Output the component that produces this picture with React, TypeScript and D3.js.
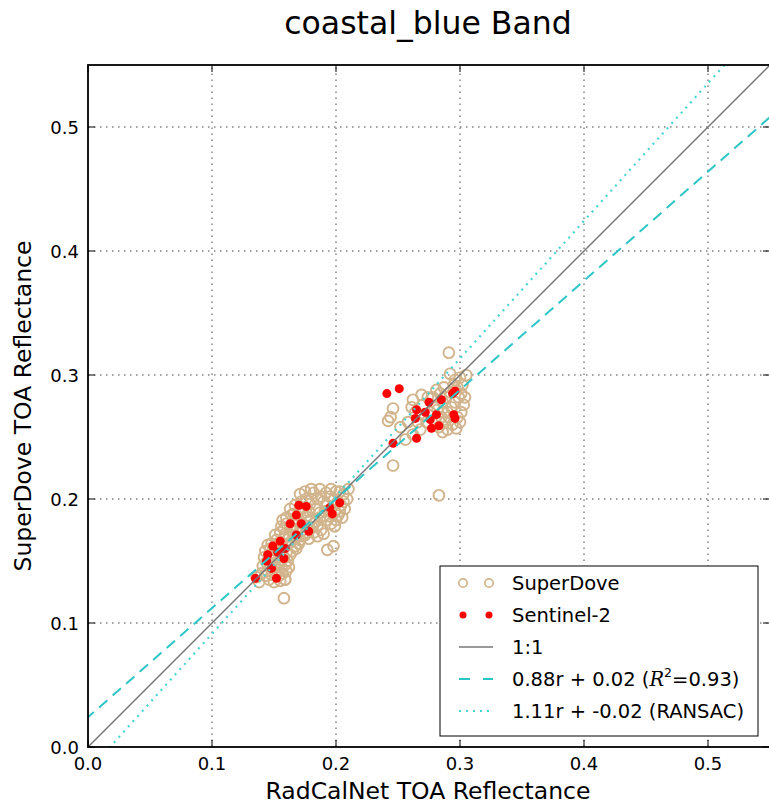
import React from "react";
import * as d3 from "d3";

const TITLE = "coastal_blue Band";
const X_LABEL = "RadCalNet TOA Reflectance";
const Y_LABEL = "SuperDove TOA Reflectance";
const TICKS = [0, 0.1, 0.2, 0.3, 0.4, 0.5];
const DOMAIN: [number, number] = [0, 0.55];

const FIT_OLS = { slope: 0.88, intercept: 0.024 };
const FIT_RANSAC = { slope: 1.11, intercept: -0.0197 };

const superDove: [number, number][] = [
  [0.136, 0.137], [0.14, 0.14], [0.143, 0.138], [0.145, 0.142], [0.148, 0.139], [0.151, 0.141],
  [0.154, 0.138], [0.157, 0.14], [0.159, 0.135], [0.158, 0.12], [0.141, 0.146], [0.144, 0.149],
  [0.147, 0.147], [0.15, 0.146], [0.153, 0.148], [0.156, 0.145], [0.159, 0.147], [0.142, 0.153],
  [0.146, 0.155], [0.149, 0.152], [0.152, 0.154], [0.155, 0.151], [0.158, 0.153], [0.161, 0.15],
  [0.143, 0.158], [0.147, 0.16], [0.15, 0.159], [0.153, 0.161], [0.156, 0.158], [0.16, 0.157],
  [0.163, 0.155], [0.148, 0.164], [0.152, 0.167], [0.155, 0.165], [0.158, 0.168], [0.161, 0.163],
  [0.164, 0.166], [0.167, 0.162], [0.151, 0.171], [0.155, 0.173], [0.159, 0.172], [0.162, 0.17],
  [0.165, 0.174], [0.168, 0.169], [0.171, 0.167], [0.156, 0.178], [0.16, 0.18], [0.163, 0.177],
  [0.166, 0.179], [0.169, 0.176], [0.172, 0.174], [0.175, 0.171], [0.178, 0.168], [0.16, 0.185],
  [0.164, 0.187], [0.167, 0.184], [0.17, 0.183], [0.173, 0.18], [0.176, 0.178], [0.179, 0.176],
  [0.182, 0.173], [0.185, 0.17], [0.163, 0.192], [0.167, 0.195], [0.17, 0.19], [0.173, 0.188],
  [0.176, 0.186], [0.179, 0.183], [0.182, 0.18], [0.185, 0.178], [0.188, 0.175], [0.19, 0.172],
  [0.172, 0.198], [0.176, 0.2], [0.179, 0.196], [0.182, 0.205], [0.187, 0.208], [0.184, 0.192],
  [0.187, 0.189], [0.19, 0.186], [0.193, 0.183], [0.196, 0.18], [0.199, 0.178], [0.19, 0.198],
  [0.193, 0.195], [0.196, 0.192], [0.199, 0.19], [0.202, 0.187], [0.205, 0.185], [0.195, 0.202],
  [0.198, 0.199], [0.201, 0.197], [0.204, 0.195], [0.207, 0.192], [0.21, 0.208], [0.206, 0.204],
  [0.203, 0.206], [0.209, 0.2], [0.2, 0.206], [0.193, 0.159], [0.198, 0.162], [0.18, 0.2],
  [0.159, 0.135], [0.138, 0.133], [0.146, 0.135], [0.15, 0.133], [0.155, 0.134], [0.16, 0.142],
  [0.162, 0.145], [0.165, 0.158], [0.168, 0.16], [0.17, 0.164], [0.173, 0.17], [0.177, 0.173],
  [0.181, 0.177], [0.184, 0.182], [0.187, 0.185], [0.191, 0.19], [0.195, 0.186], [0.2, 0.183],
  [0.203, 0.19], [0.206, 0.198], [0.174, 0.193], [0.178, 0.19], [0.185, 0.2], [0.188, 0.202],
  [0.192, 0.205], [0.196, 0.208], [0.171, 0.204], [0.166, 0.188], [0.158, 0.176], [0.153, 0.164],
  [0.145, 0.163], [0.157, 0.183], [0.175, 0.206], [0.18, 0.208],
  [0.291, 0.318], [0.292, 0.301], [0.305, 0.3], [0.246, 0.273], [0.244, 0.266], [0.242, 0.263],
  [0.246, 0.227], [0.283, 0.203], [0.262, 0.28], [0.269, 0.284], [0.261, 0.274], [0.297, 0.257],
  [0.266, 0.262], [0.258, 0.262], [0.264, 0.27], [0.27, 0.268], [0.273, 0.262], [0.276, 0.27],
  [0.279, 0.275], [0.282, 0.272], [0.285, 0.266], [0.288, 0.262], [0.29, 0.27], [0.293, 0.274],
  [0.296, 0.278], [0.299, 0.282], [0.301, 0.285], [0.298, 0.29], [0.302, 0.292], [0.286, 0.278],
  [0.289, 0.282], [0.292, 0.286], [0.295, 0.292], [0.28, 0.264], [0.283, 0.258], [0.29, 0.256],
  [0.294, 0.26], [0.298, 0.266], [0.301, 0.27], [0.303, 0.276], [0.3, 0.262], [0.268, 0.256],
  [0.262, 0.252], [0.256, 0.248], [0.252, 0.258], [0.27, 0.276], [0.274, 0.282], [0.287, 0.29],
  [0.284, 0.285], [0.278, 0.282], [0.281, 0.288], [0.296, 0.296], [0.3, 0.298], [0.291, 0.266],
  [0.287, 0.27], [0.304, 0.282], [0.286, 0.254],
];

const sentinel2: [number, number][] = [
  [0.17, 0.195], [0.176, 0.194], [0.168, 0.187], [0.195, 0.193], [0.203, 0.197], [0.197, 0.188],
  [0.163, 0.18], [0.172, 0.18], [0.178, 0.174], [0.168, 0.171], [0.155, 0.166], [0.149, 0.162],
  [0.159, 0.16], [0.145, 0.155], [0.153, 0.157], [0.158, 0.152], [0.144, 0.15], [0.148, 0.144],
  [0.152, 0.136], [0.135, 0.136],
  [0.241, 0.285], [0.251, 0.289], [0.265, 0.272], [0.275, 0.278], [0.272, 0.27], [0.285, 0.28],
  [0.294, 0.285], [0.296, 0.287], [0.281, 0.268], [0.276, 0.264], [0.277, 0.257], [0.283, 0.259],
  [0.295, 0.268], [0.296, 0.265], [0.265, 0.249], [0.246, 0.245], [0.264, 0.265],
];

const FONT = "DejaVu Sans, sans-serif";
const TAN = "#d2b48c";
const RED = "#ff0000";
const CYAN_DASH = "#2cc6c6";
const CYAN_DOT = "#45d4d4";

export default function App() {
  const W = 769, H = 806;
  const x = d3.scaleLinear().domain(DOMAIN).range([88, 770]);
  const y = d3.scaleLinear().domain(DOMAIN).range([747, 65]);
  const [x0, x1] = x.range();
  const [y0, y1] = y.range();
  const line = d3.line<[number, number]>().x((d) => x(d[0])).y((d) => y(d[1]));
  const fitPts = (f: { slope: number; intercept: number }): [number, number][] => {
    return [[-0.1, f.intercept - 0.1 * f.slope], [0.7, f.intercept + 0.7 * f.slope]];
  };
  const tickLen = 7;
  const lx = 440, ly = 566, lw = 318, lh = 170;
  const rowY = (i: number) => ly + 17 + i * 32;
  const mk1 = 463, mk2 = 489, tx = 512;
  const LF = 19.5;
  return (
    <svg width={W} height={H} style={{ position: "absolute", left: 0, top: 0, background: "#fff" }}>
      <rect width={W} height={H} fill="#fff" />
      <defs>
        <clipPath id="plotclip">
          <rect x={x0} y={y1} width={x1 - x0} height={y0 - y1} />
        </clipPath>
      </defs>
      <text x={428} y={34} textAnchor="middle" fontFamily={FONT} fontSize={31.5} fill="#000">{TITLE}</text>
      {/* grid */}
      <g stroke="#444" strokeWidth={1} strokeDasharray="1.5,4.5">
        {TICKS.slice(1).map((t) => (
          <line key={"gx" + t} x1={x(t)} x2={x(t)} y1={y0} y2={y1} />
        ))}
        {TICKS.slice(1).map((t) => (
          <line key={"gy" + t} x1={x0} x2={x1} y1={y(t)} y2={y(t)} />
        ))}
      </g>
      <g clipPath="url(#plotclip)">
        {superDove.map((d, i) => (
          <circle key={"s" + i} cx={x(d[0])} cy={y(d[1])} r={5.4} fill="none" stroke={TAN} strokeWidth={1.9} />
        ))}
        {sentinel2.map((d, i) => (
          <circle key={"r" + i} cx={x(d[0])} cy={y(d[1])} r={4.5} fill={RED} />
        ))}
        <path d={line([[0, 0], [0.6, 0.6]]) || ""} stroke="#777" strokeWidth={1.4} fill="none" />
        <path d={line(fitPts(FIT_OLS)) || ""} stroke={CYAN_DASH} strokeWidth={2} strokeDasharray="11,7" fill="none" />
        <path d={line(fitPts(FIT_RANSAC)) || ""} stroke={CYAN_DOT} strokeWidth={2.2} strokeDasharray="2,5" fill="none" />
      </g>
      {/* ticks */}
      <g stroke="#000" strokeWidth={1}>
        {TICKS.map((t) => (
          <g key={"tx" + t}>
            <line x1={x(t)} x2={x(t)} y1={y0} y2={y0 - tickLen} />
            <line x1={x(t)} x2={x(t)} y1={y1} y2={y1 + tickLen} />
            <line x1={x0} x2={x0 + tickLen} y1={y(t)} y2={y(t)} />
            <line x1={x1} x2={x1 - tickLen} y1={y(t)} y2={y(t)} />
          </g>
        ))}
      </g>
      <rect x={x0} y={y1} width={x1 - x0} height={y0 - y1} fill="none" stroke="#000" strokeWidth={1.8} />
      <g fontFamily={FONT} fontSize={18} fill="#000">
        {TICKS.map((t) => (
          <text key={"lx" + t} x={x(t)} y={y0 + 23} textAnchor="middle">{d3.format(".1f")(t)}</text>
        ))}
        {TICKS.map((t) => (
          <text key={"ly" + t} x={x0 - 9} y={y(t) + 6.5} textAnchor="end">{d3.format(".1f")(t)}</text>
        ))}
      </g>
      <text x={428} y={799} textAnchor="middle" fontFamily={FONT} fontSize={23.5} fill="#000">{X_LABEL}</text>
      <text transform={`translate(31,406) rotate(-90)`} textAnchor="middle" fontFamily={FONT} fontSize={23.5} fill="#000">{Y_LABEL}</text>
      {/* legend */}
      <rect x={lx} y={ly} width={lw} height={lh} fill="#fff" stroke="#000" strokeWidth={1} />
      <g fontFamily={FONT} fontSize={LF} fill="#000">
        <circle cx={mk1} cy={rowY(0)} r={4.2} fill="none" stroke={TAN} strokeWidth={1.7} />
        <circle cx={mk2} cy={rowY(0)} r={4.2} fill="none" stroke={TAN} strokeWidth={1.7} />
        <text x={tx} y={rowY(0) + 7}>SuperDove</text>
        <circle cx={mk1} cy={rowY(1)} r={3.5} fill={RED} />
        <circle cx={mk2} cy={rowY(1)} r={3.5} fill={RED} />
        <text x={tx} y={rowY(1) + 7}>Sentinel-2</text>
        <line x1={mk1 - 4} x2={mk2 + 4} y1={rowY(2)} y2={rowY(2)} stroke="#777" strokeWidth={1.4} />
        <text x={tx} y={rowY(2) + 7}>1:1</text>
        <line x1={mk1 - 4} x2={mk2 + 4} y1={rowY(3)} y2={rowY(3)} stroke={CYAN_DASH} strokeWidth={2} strokeDasharray="11,13" />
        <text x={tx} y={rowY(3) + 7}>
          {"0.88r + 0.02 ("}
          <tspan fontFamily="DejaVu Serif, serif" fontStyle="italic">R</tspan>
          <tspan fontSize={12.5} dy={-9}>2</tspan>
          <tspan dy={9}>{"=0.93)"}</tspan>
        </text>
        <line x1={mk1 - 4} x2={mk2 + 4} y1={rowY(4)} y2={rowY(4)} stroke={CYAN_DOT} strokeWidth={2.2} strokeDasharray="2,5" />
        <text x={tx} y={rowY(4) + 7}>1.11r + -0.02 (RANSAC)</text>
      </g>
    </svg>
  );
}
